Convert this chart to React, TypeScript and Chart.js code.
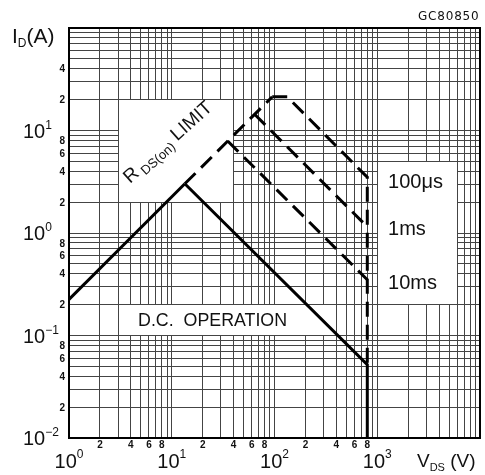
import React, { useEffect, useRef } from 'react';
import { Chart, registerables } from 'chart.js';

Chart.register(...registerables);

const W = 485;
const H = 475;

// Series values: [V_DS (V), I_D (A)]
const rdsLimitSolid = [[1, 0.225], [13.4, 3.02]];
const rdsLimitDashed = [[13.4, 3.02], [95, 21.3]];
const dcOperation = [[13.4, 3.02], [800, 0.052], [800, 0.01]];
const pulse100us = [[95, 21.3], [133, 21.3], [800, 3.5], [800, 0.052]];
const pulse1ms = [[64, 14.4], [800, 1.15]];
const pulse10ms = [[35, 7.9], [800, 0.35]];

// Axes
const xRange = [1, 10000];
const yRange = [0.01, 100];
const xMajorTicks = [1, 10, 100, 1000];
const xMinorLabels = [2, 4, 6, 8, 20, 40, 60, 80, 200, 400, 600, 800];
const yMajorTicks = [0.01, 0.1, 1, 10];
const yMinorLabels = [0.02, 0.04, 0.06, 0.08, 0.2, 0.4, 0.6, 0.8, 2, 4, 6, 8, 20, 40];

// White label areas cut out of the grid: [xFrom, xTo, yFrom, yTo]
const labelBoxes = [
  [3, 40, 2, 20],
  [3, 400, 0.1, 0.2],
  [1000, 6000, 0.2, 5],
];

// Annotation anchors [V, I]
const rdsLabelAt = [3.92, 3.0];
const dcLabelAt = [4.7, 0.1435];
const pulseLabelV = 1273;
const pulseLabels = [
  ['100μs', 3.2],
  ['1ms', 1.13],
  ['10ms', 0.329],
];

const SANS = '"Liberation Sans", Arial, Helvetica, sans-serif';

function logGrid(min: number, max: number): number[] {
  const out: number[] = [];
  const e0 = Math.round(Math.log10(min));
  const e1 = Math.round(Math.log10(max));
  for (let e = e0; e < e1; e++) {
    for (let k = 1; k <= 9; k++) out.push(parseFloat((k * Math.pow(10, e)).toPrecision(6)));
  }
  out.push(max);
  return out;
}

const leadDigit = (v: number) => String(Math.round(v / Math.pow(10, Math.floor(Math.log10(v) + 1e-9))));
const expText = (v: number) => {
  const e = Math.round(Math.log10(v));
  return e < 0 ? '\u2212' + String(-e) : String(e);
};

type Run = [string, string, number];
function drawRuns(ctx: CanvasRenderingContext2D, runs: Run[], x: number, y: number, align: 'left' | 'center' | 'right') {
  let total = 0;
  const ws = runs.map(([t, f]) => {
    ctx.font = f;
    const w = ctx.measureText(t).width;
    total += w;
    return w;
  });
  let cx = align === 'left' ? x : align === 'center' ? x - total / 2 : x - total;
  runs.forEach(([t, f, dy], i) => {
    ctx.font = f;
    ctx.fillText(t, cx, y + dy);
    cx += ws[i];
  });
}

const align = (p: number) => Math.round(p - 0.5) + 0.5;

const overlayPlugin = {
  id: 'soaOverlay',
  beforeDatasetsDraw(chart: any) {
    const { ctx } = chart;
    const xs = chart.scales.x;
    const ys = chart.scales.y;
    ctx.save();
    ctx.fillStyle = '#ffffff';
    for (const [x1, x2, y1, y2] of labelBoxes) {
      const l = align(xs.getPixelForValue(x1)) + 0.5;
      const r = align(xs.getPixelForValue(x2)) - 0.5;
      const t = align(ys.getPixelForValue(y2)) + 0.5;
      const b = align(ys.getPixelForValue(y1)) - 0.5;
      ctx.fillRect(l, t, r - l, b - t);
    }
    ctx.restore();
  },
  afterDraw(chart: any) {
    const { ctx, chartArea: ca } = chart;
    const xs = chart.scales.x;
    const ys = chart.scales.y;
    ctx.save();
    // frame
    ctx.strokeStyle = '#000';
    ctx.lineWidth = 2;
    ctx.strokeRect(ca.left, ca.top, ca.right - ca.left, ca.bottom - ca.top);

    ctx.fillStyle = '#111';
    ctx.textAlign = 'left';
    ctx.textBaseline = 'alphabetic';

    // y major labels
    for (const v of yMajorTicks) {
      const py = ys.getPixelForValue(v);
      drawRuns(ctx, [['10', `20px ${SANS}`, 0], [expText(v), `12px ${SANS}`, -9]], 23, py + 7, 'left');
    }
    // y minor labels
    for (const v of yMinorLabels) {
      const py = ys.getPixelForValue(v);
      drawRuns(ctx, [[leadDigit(v), `bold 10px ${SANS}`, 0]], 65, py + 3.6, 'right');
    }
    // x major labels
    for (const v of xMajorTicks) {
      const px = xs.getPixelForValue(v);
      drawRuns(ctx, [['10', `20px ${SANS}`, 0], [expText(v), `12px ${SANS}`, -10]], px, 468, 'center');
    }
    // x minor labels
    for (const v of xMinorLabels) {
      const px = xs.getPixelForValue(v);
      drawRuns(ctx, [[leadDigit(v), `bold 10px ${SANS}`, 0]], px, 448, 'center');
    }

    // axis titles
    drawRuns(ctx, [['I', `21px ${SANS}`, 0], ['D', `12px ${SANS}`, 4], ['(A)', `21px ${SANS}`, 0]], 12, 43, 'left');
    drawRuns(ctx, [['V', `19px ${SANS}`, 0], ['DS', `11px ${SANS}`, 4], [' (V)', `19px ${SANS}`, 0]], 417, 467, 'left');

    // code
    ctx.font = `12px "DejaVu Sans", ${SANS}`;
    try { (ctx as any).letterSpacing = '0.8px'; } catch (e) {}
    ctx.fillText('GC80850', 418, 20);
    try { (ctx as any).letterSpacing = '0px'; } catch (e) {}

    // annotations
    ctx.font = `18px ${SANS}`;
    ctx.fillText('D.C.  OPERATION', xs.getPixelForValue(dcLabelAt[0]), ys.getPixelForValue(dcLabelAt[1]) + 7, 149);

    for (const [txt, iv] of pulseLabels) {
      ctx.font = `20px ${SANS}`;
      ctx.fillText(txt as string, xs.getPixelForValue(pulseLabelV), ys.getPixelForValue(iv as number) + 7);
    }

    ctx.save();
    ctx.translate(xs.getPixelForValue(rdsLabelAt[0]), ys.getPixelForValue(rdsLabelAt[1]));
    ctx.rotate((-42 * Math.PI) / 180);
    drawRuns(ctx, [['R', `19px ${SANS}`, 0], [' DS(on)', `13px ${SANS}`, 4], [' LIMIT', `19px ${SANS}`, 0]], 0, 0, 'left');
    ctx.restore();

    ctx.restore();
  },
};

const toPts = (arr: number[][]) => arr.map(([x, y]) => ({ x, y }));

export default function App() {
  const ref = useRef<HTMLCanvasElement>(null);
  useEffect(() => {
    const xGrid = logGrid(xRange[0], xRange[1]);
    const yGrid = logGrid(yRange[0], yRange[1]);
    const solid = { borderColor: '#000', borderWidth: 3, pointRadius: 0, fill: false, tension: 0 };
    const dashed = { ...solid, borderDash: [15, 8] };
    const chart = new Chart(ref.current as HTMLCanvasElement, {
      type: 'line',
      data: {
        datasets: [
          { label: 'RDS(on) limit', data: toPts(rdsLimitSolid), ...solid },
          { label: 'D.C. operation', data: toPts(dcOperation), ...solid },
          { label: 'RDS(on) limit (pulsed)', data: toPts(rdsLimitDashed), ...dashed },
          { label: '100us', data: toPts(pulse100us), ...dashed },
          { label: '1ms', data: toPts(pulse1ms), ...dashed },
          { label: '10ms', data: toPts(pulse10ms), ...dashed },
        ] as any,
      },
      options: {
        responsive: false,
        maintainAspectRatio: false,
        devicePixelRatio: 1,
        animation: false,
        layout: { padding: { left: 69, top: 28, right: 5, bottom: 37 } },
        plugins: { legend: { display: false }, tooltip: { enabled: false } },
        scales: {
          x: {
            type: 'logarithmic',
            min: xRange[0],
            max: xRange[1],
            grid: { color: '#444', lineWidth: 1, drawTicks: false },
            border: { display: false },
            ticks: { display: false },
            afterBuildTicks: (s: any) => { s.ticks = xGrid.map((v) => ({ value: v })); },
            afterFit: (s: any) => { s.height = 0; },
          },
          y: {
            type: 'logarithmic',
            min: yRange[0],
            max: yRange[1],
            grid: { color: '#444', lineWidth: 1, drawTicks: false },
            border: { display: false },
            ticks: { display: false },
            afterBuildTicks: (s: any) => { s.ticks = yGrid.map((v) => ({ value: v })); },
            afterFit: (s: any) => { s.width = 0; },
          },
        } as any,
      },
      plugins: [overlayPlugin],
    });
    return () => chart.destroy();
  }, []);
  return (
    <div style={{ position: 'fixed', left: 0, top: 0, width: W, height: H, background: '#fff' }}>
      <canvas ref={ref} width={W} height={H} style={{ width: W, height: H, display: 'block' }} />
    </div>
  );
}
